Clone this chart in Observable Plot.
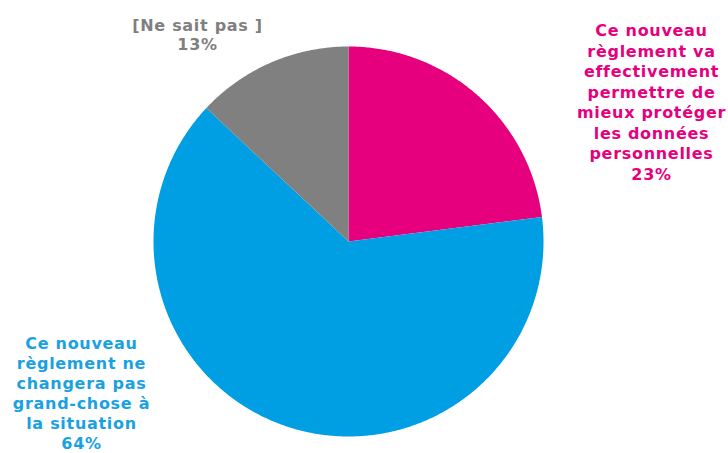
<!DOCTYPE html>
<html>
<head>
<meta charset="utf-8">
<script src="https://cdn.jsdelivr.net/npm/d3@7"></script>
<script src="https://cdn.jsdelivr.net/npm/@observablehq/plot@0.6"></script>
<style>
  html, body { margin: 0; padding: 0; background: #fff; }
  #chart svg { display: block; }
  #chart svg text { letter-spacing: 0.7px; }
</style>
</head>
<body>
<div id="chart"></div>
<script>
// ---- data ----
const categories = [
  "Ce nouveau règlement va effectivement permettre de mieux protéger les données personnelles",
  "Ce nouveau règlement ne changera pas grand-chose à la situation",
  "[Ne sait pas ]"
];
const values = [23, 64, 13];
const labelLines = [
  ["Ce nouveau", "règlement va", "effectivement", "permettre de", "mieux protéger", "les données", "personnelles", "23%"],
  ["Ce nouveau", "règlement ne", "changera pas", "grand-chose à", "la situation", "64%"],
  ["[Ne sait pas ]", "13%"]
];
const colors = ["#e6007e", "#009fe3", "#808080"];
const textColors = ["#e6007e", "#1aa1e1", "#7f7f7f"];

// ---- layout ----
const W = 728, H = 453;
const cx = 348, cy = 241, R = 195;
// label anchor positions in pixels (layout only)
const labelPos = [[651, 101, 1.28], [81, 392, 1.26], [197, 34, 1.15]];

const rows = categories.map((c, i) => ({category: c, value: values[i]}));
const arcs = d3.pie().sort(null).value(d => d.value)(rows);

// polygon points for each slice, unit circle
const pts = [];
arcs.forEach(a => {
  const c = a.data.category;
  pts.push({category: c, x: 0, y: 0});
  const n = Math.max(2, Math.ceil((a.endAngle - a.startAngle) / (Math.PI / 360)));
  for (let k = 0; k <= n; k++) {
    const t = a.startAngle + (a.endAngle - a.startAngle) * k / n;
    pts.push({category: c, x: Math.sin(t), y: Math.cos(t)});
  }
});

const labels = categories.map((c, i) => ({
  category: c,
  text: labelLines[i].join("\n"),
  x: (labelPos[i][0] - cx) / R,
  y: (cy - labelPos[i][1]) / R,
  lh: labelPos[i][2],
  color: textColors[i]
}));

const chart = Plot.plot({
  width: W,
  height: H,
  margin: 0,
  x: {domain: [-cx / R, (W - cx) / R], axis: null},
  y: {domain: [-(H - cy) / R, cy / R], axis: null},
  color: {domain: categories, range: colors},
  style: {background: "#fff", fontFamily: "'DejaVu Sans', Verdana, sans-serif"},
  marks: [
    Plot.line(pts, {x: "x", y: "y", z: "category", fill: "category", stroke: "none", curve: "linear-closed"}),
    ...labels.map(l => Plot.text([l], {
      x: "x", y: "y", text: "text", fill: "color",
      fontSize: 16, fontWeight: "bold", lineHeight: l.lh,
      textAnchor: "middle", lineAnchor: "middle"
    }))
  ]
});
document.getElementById("chart").append(chart);
</script>
</body>
</html>
